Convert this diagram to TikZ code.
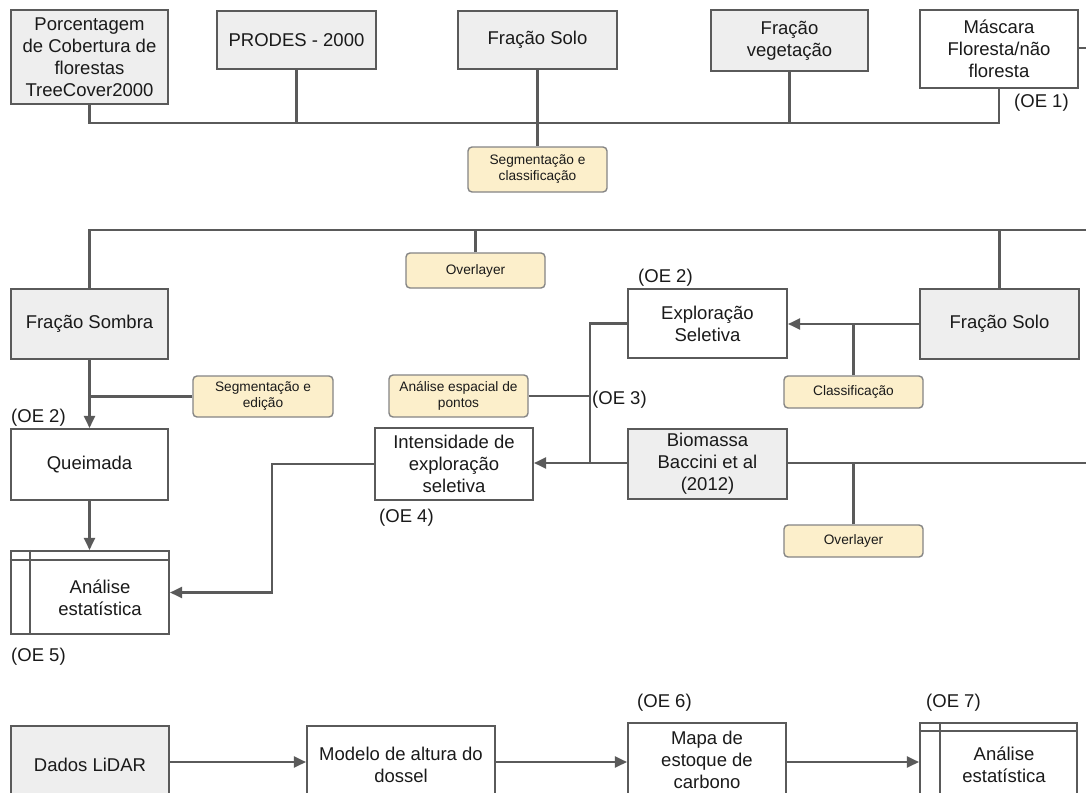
\documentclass[tikz,border=0pt]{standalone}
\usepackage{fontspec}
\setmainfont{Liberation Sans}
\usetikzlibrary{arrows.meta}
\definecolor{linec}{HTML}{5A5A5A}
\definecolor{grayf}{HTML}{EEEEEE}
\definecolor{yelf}{HTML}{FCEFCB}
\definecolor{yelb}{HTML}{858585}
\definecolor{txt}{HTML}{1A1A1A}
\begin{document}
\begin{tikzpicture}[x=1pt,y=-1pt,
  base/.style={draw=linec, line width=2.1pt, inner sep=0pt, align=center, text=txt,
    font=\fontsize{18.5}{22}\selectfont},
  gbox/.style={base, fill=grayf},
  wbox/.style={base, fill=white},
  ybox/.style={draw=yelb, line width=1.4pt, fill=yelf, rounded corners=4pt, inner sep=0pt,
    align=center, text=txt, minimum width=139pt, font=\fontsize{13.7}{16}\selectfont},
  lbl/.style={inner sep=0pt, anchor=west, text=txt, font=\fontsize{18.5}{22}\selectfont},
  txtonly/.style={inner sep=0pt, align=center, text=txt, font=\fontsize{18.5}{22}\selectfont},
  conn/.style={draw=linec, line width=2.1pt},
  arr/.style={conn, -{Triangle[length=12pt,width=11pt]}}
]
\useasboundingbox[fill=white] (0,0) rectangle (1086,792);

% ---- row 1
\node[gbox, minimum width=157pt, minimum height=94pt] (pc) at (89.5,57) {Porcentagem\\de Cobertura de\\florestas\\TreeCover2000};
\node[gbox, minimum width=159pt, minimum height=58pt] (prodes) at (296.5,40) {PRODES - 2000};
\node[gbox, minimum width=159pt, minimum height=58pt] (fsolo1) at (537.5,40) {Fração Solo};
\node[gbox, minimum width=157pt, minimum height=61pt] (fveg) at (789.5,40.5) {Fração\\vegetação};
\node[wbox, minimum width=158pt, minimum height=78pt] (mask) at (999,49) {Máscara\\Floresta/não\\floresta};
\node[lbl] (oe1) at (1014,103) {(OE 1)};
\node[ybox, minimum height=45pt] (seg1) at (537.5,169.5) {Segmentação e\\classificação};

\coordinate (bus) at (0,123);
\coordinate (mR) at (1092,48);
\draw[conn] (pc.south) |- (mask.south |- bus) -- (mask.south);
\draw[conn] (prodes.south) -- (prodes.south |- bus);
\draw[conn] (fsolo1.south) -- (seg1.north);
\draw[conn] (fveg.south) -- (fveg.south |- bus);
\draw[conn] (mask.east |- mR) -- (mR);

% ---- row 2
\node[gbox, minimum width=157pt, minimum height=70pt] (fsombra) at (89.5,324) {Fração Sombra};
\node[ybox, minimum height=35pt] (ov1) at (475.5,270.5) {Overlayer};
\node[wbox, minimum width=159pt, minimum height=69pt] (explo) at (707.5,323.5) {Exploração\\Seletiva};
\node[gbox, minimum width=159pt, minimum height=70pt] (fsolo2) at (999.5,324) {Fração Solo};
\node[ybox, minimum height=32pt] (classif) at (853.5,392) {Classificação};
\node[ybox, minimum height=42pt] (aesp) at (458.5,396) {Análise espacial de\\pontos};
\node[ybox, minimum width=140pt, minimum height=41pt] (seged) at (263,396.5) {Segmentação e\\edição};
\node[wbox, minimum width=157pt, minimum height=71pt] (queim) at (89.5,464.5) {Queimada};
\node[wbox, minimum width=158pt, minimum height=72pt] (intens) at (454,464) {Intensidade de\\exploração\\seletiva};
\node[gbox, minimum width=159pt, minimum height=70pt] (biom) at (707.5,464) {Biomassa\\Baccini et al\\(2012)};
\node[ybox, minimum height=32pt] (ov2) at (853.5,541) {Overlayer};
\node[wbox, minimum width=158pt, minimum height=83pt] (anal1) at (90,592.5) {};
\node[txtonly] (anal1t) at (100,598) {Análise\\estatística};

\node[lbl] (oe2a) at (638,278) {(OE 2)};
\node[lbl] (oe2b) at (11,418) {(OE 2)};
\node[lbl] (oe3) at (592,400) {(OE 3)};
\node[lbl] (oe4) at (379,518) {(OE 4)};
\node[lbl] (oe5) at (11,657) {(OE 5)};

\coordinate (r2R) at (1092,230);
\coordinate (j) at (590,463);
\coordinate (k) at (272,0);
\coordinate (bR) at (1092,463);
\draw[conn] (fsombra.north) |- (r2R);
\draw[conn] (ov1.north) -- (ov1.north |- r2R);
\draw[conn] (fsolo2.north) -- (fsolo2.north |- r2R);
\draw[arr] (fsolo2.west) -- (fsolo2.west -| explo.east);
\draw[conn] (classif.north) -- (classif.north |- fsolo2.west);
\draw[conn] (explo.west) -| (j);
\draw[conn] (aesp.east) -- (aesp.east -| j);
\draw[arr] (biom.west |- j) -- (intens.east |- j);
\draw[conn] (biom.east |- bR) -- (bR);
\draw[conn] (ov2.north) -- (ov2.north |- bR);
\draw[arr] (fsombra.south) -- (queim.north);
\draw[conn] (seged.west) -- (seged.west -| fsombra.south);
\draw[arr] (queim.south) -- (anal1.north -| queim.south);
\draw[arr] (intens.west) -| (k |- anal1.east) -- (anal1.east);
\draw[conn] ([yshift=-10pt]anal1.north west) -- ([yshift=-10pt]anal1.north east);
\draw[conn] ([xshift=20pt]anal1.north west) -- ([xshift=20pt]anal1.south west);

% ---- row 3
\node[gbox, minimum width=158pt, minimum height=78pt] (lidar) at (90,765) {Dados LiDAR};
\node[wbox, minimum width=188pt, minimum height=78pt] (modelo) at (401,765) {Modelo de altura do\\dossel};
\node[wbox, minimum width=158pt, minimum height=74pt] (mapa) at (707,760) {Mapa de\\estoque de\\carbono};
\node[wbox, minimum width=157pt, minimum height=84pt] (anal2) at (998.5,765) {};
\node[txtonly] (anal2t) at (1004,765) {Análise\\estatística};
\node[lbl] (oe6) at (637,703) {(OE 6)};
\node[lbl] (oe7) at (926,703) {(OE 7)};

\coordinate (r3) at (0,762);
\draw[arr] (lidar.east |- r3) -- (modelo.west |- r3);
\draw[arr] (modelo.east |- r3) -- (mapa.west |- r3);
\draw[arr] (mapa.east |- r3) -- (anal2.west |- r3);
\draw[conn] ([yshift=-9pt]anal2.north west) -- ([yshift=-9pt]anal2.north east);
\draw[conn] ([xshift=21pt]anal2.north west) -- ([xshift=21pt]anal2.south west);
\end{tikzpicture}
\end{document}
